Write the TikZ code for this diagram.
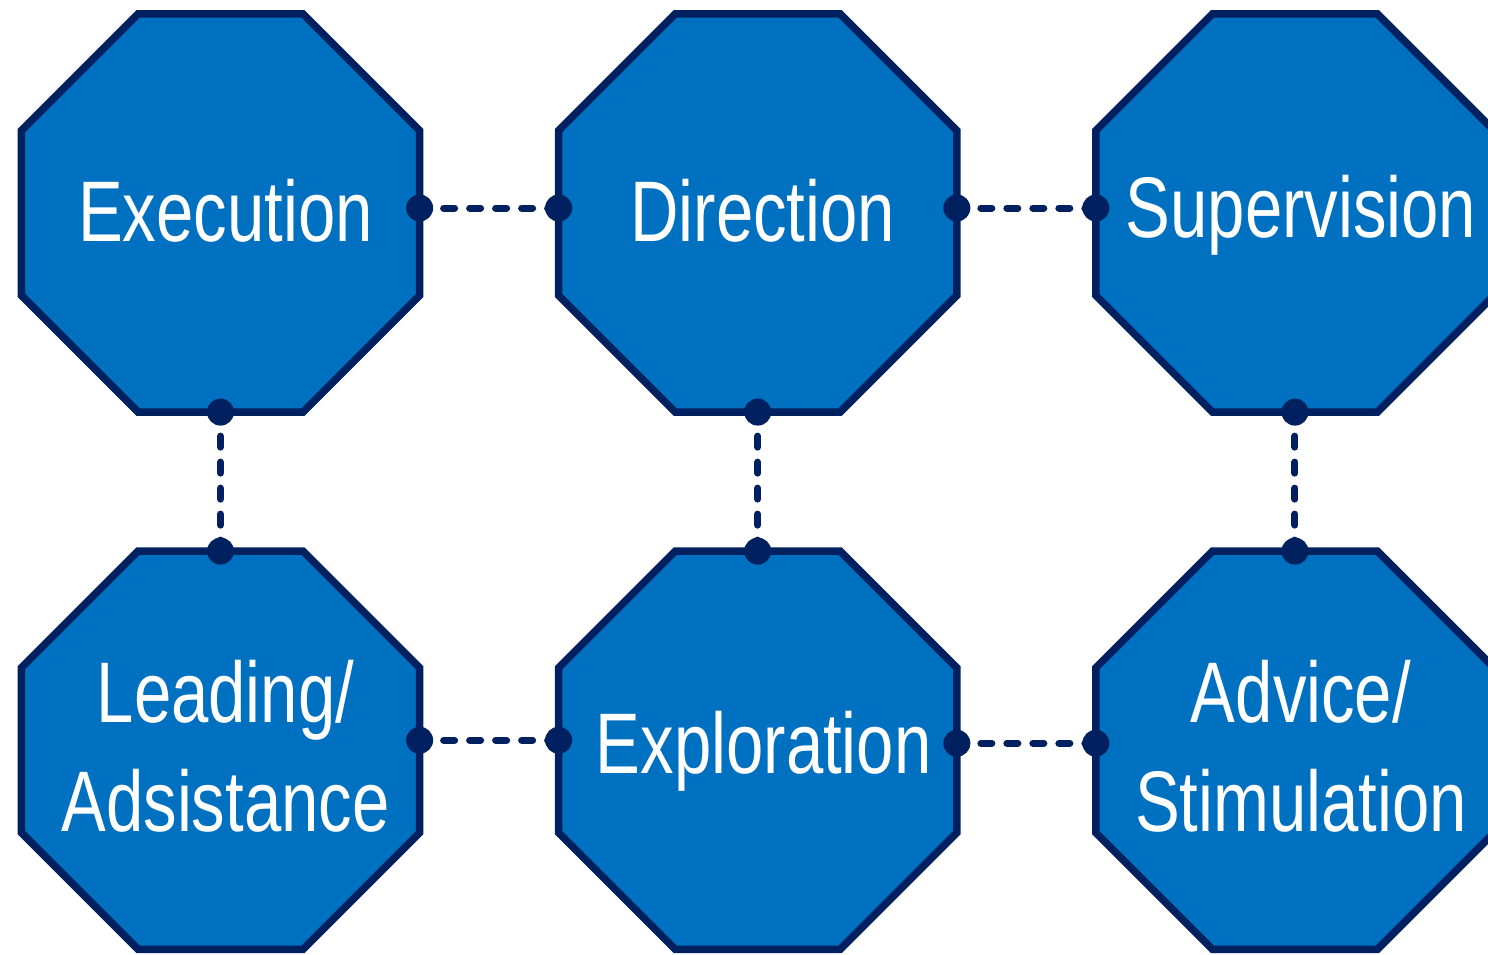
\documentclass[tikz,border=0pt]{standalone}
\usepackage{fontspec}
\newfontfamily\octfont[FakeStretch=0.78]{Liberation Sans}
\usetikzlibrary{shapes.geometric,positioning}
\definecolor{octblue}{HTML}{0070C0}
\definecolor{octnavy}{HTML}{002060}

\begin{document}
\begin{tikzpicture}[x=1pt,y=-1pt,node distance=139pt,
	octa/.style={regular polygon,regular polygon sides=8,minimum size=431pt,inner sep=0pt,outer sep=0pt,
		draw=octnavy,fill=octblue,line width=7.5pt},
	octtext/.style={text=white,align=center,inner sep=0pt,font={\octfont\fontsize{86}{109}\selectfont}},
	link/.style={octnavy,line width=7pt,line cap=round,dash pattern=on 11pt off 15pt,dash phase=2pt},
	pin/.style={octnavy}]
	\useasboundingbox (0,0) rectangle (1488,955);
	
	\node[octa] (ex) at (220.5,213) {};
	\node[octa,right=of ex] (dir) {};
	\node[octa,right=of dir] (sup) {};
	\node[octa,below=of ex] (lead) {};
	\node[octa,below=of dir] (expl) {};
	\node[octa,below=of sup] (adv) {};
	
	\node[octtext] (ex-t) at ([xshift=5pt,yshift=2pt]ex) {Execution};
	\node[octtext] (dir-t) at ([xshift=5pt,yshift=2pt]dir) {Direction};
	\node[octtext] (sup-t) at ([xshift=6pt,yshift=-2pt]sup) {Supervision};
	\node[octtext] (lead-t) at ([xshift=5pt,yshift=4pt]lead) {Leading/\\Adsistance};
	\node[octtext] (expl-t) at ([xshift=6pt,yshift=-1pt]expl) {Exploration};
	\node[octtext] (adv-t) at ([xshift=6pt,yshift=4pt]adv) {Advice/\\Stimulation};
	
	\foreach \a/\b/\s in {ex/dir/5,dir/sup/5,lead/expl/10,expl/adv/7}
	{
		\draw[link] ([yshift=\s pt]\a.east) -- ([yshift=\s pt]\b.west);
		\fill[pin] ([yshift=\s pt]\a.east) circle (13.5pt);
		\fill[pin] ([yshift=\s pt]\b.west) circle (13.5pt);
	}
	\foreach \a/\b in {ex/lead,dir/expl,sup/adv}
	{
		\draw[link] (\a.south) -- (\b.north);
		\fill[pin] (\a.south) circle (13.5pt);
		\fill[pin] (\b.north) circle (13.5pt);
	}
\end{tikzpicture}
\end{document}
